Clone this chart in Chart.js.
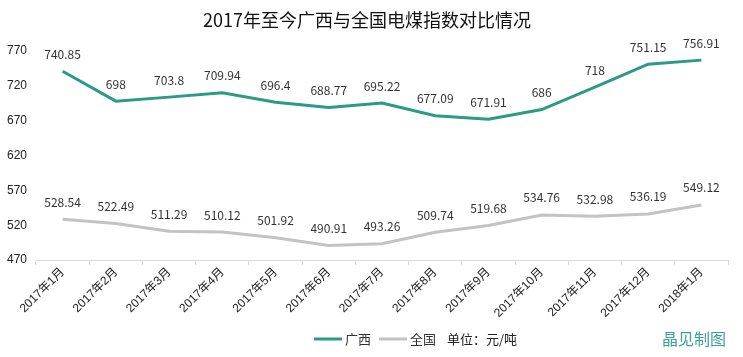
<!DOCTYPE html>
<html><head><meta charset="utf-8">
<script src="https://cdn.jsdelivr.net/npm/chart.js@4/dist/chart.umd.min.js"></script>
<style>html,body{margin:0;padding:0;background:#fff}#wrap{width:743px;height:357px}</style>
</head><body><div id="wrap"><canvas id="c" width="743" height="357"></canvas></div>
<script>
const categories = ['2017年1月','2017年2月','2017年3月','2017年4月','2017年5月','2017年6月','2017年7月','2017年8月','2017年9月','2017年10月','2017年11月','2017年12月','2018年1月'];
const guangxi = [740.85, 698, 703.8, 709.94, 696.4, 688.77, 695.22, 677.09, 671.91, 686, 718, 751.15, 756.91];
const national = [528.54, 522.49, 511.29, 510.12, 501.92, 490.91, 493.26, 509.74, 519.68, 534.76, 532.98, 536.19, 549.12];
const yTicks = [470, 520, 570, 620, 670, 720, 770];
const seriesNames = ['广西', '全国'];
const unitText = '单位：元/吨';
const creditText = '晶见制图';
const titleText = '2017年至今广西与全国电煤指数对比情况';

const TEAL = '#2b9a87';
const GRAY = '#c3c3c3';
const CJK = '"Noto Sans CJK SC", "Liberation Sans", sans-serif';
const SANS = '"Liberation Sans", "Noto Sans CJK SC", sans-serif';

const labelPlugin = {
  id: 'valueLabels',
  afterDatasetsDraw(chart) {
    const ctx = chart.ctx;
    ctx.save();
    ctx.font = '12px ' + CJK;
    ctx.fillStyle = '#333';
    ctx.textAlign = 'center';
    ctx.textBaseline = 'middle';
    chart.data.datasets.forEach((ds, i) => {
      const meta = chart.getDatasetMeta(i);
      meta.data.forEach((pt, j) => {
        ctx.fillText(String(ds.data[j]), pt.x, pt.y - 17);
      });
    });
    ctx.restore();
  }
};

const legendPlugin = {
  id: 'customLegend',
  afterDraw(chart) {
    const ctx = chart.ctx;
    const y = 339;
    ctx.save();
    ctx.textBaseline = 'middle';
    ctx.font = '13px ' + CJK;
    let x = 314;
    const colors = [TEAL, GRAY];
    seriesNames.forEach((name, i) => {
      ctx.strokeStyle = colors[i];
      ctx.lineWidth = 3;
      ctx.beginPath(); ctx.moveTo(x, y); ctx.lineTo(x + 28, y); ctx.stroke();
      ctx.fillStyle = '#333';
      ctx.textAlign = 'left';
      ctx.fillText(name, x + 31, y);
      x += 65;
    });
    ctx.fillStyle = '#222';
    ctx.fillText(unitText, 447, y);
    ctx.fillStyle = '#3aa396';
    ctx.font = '16px ' + CJK;
    ctx.textAlign = 'right';
    ctx.fillText(creditText, 726, y);
    ctx.restore();
  }
};

new Chart(document.getElementById('c'), {
  type: 'line',
  data: {
    labels: categories,
    datasets: [
      { label: seriesNames[0], data: guangxi, borderColor: TEAL, backgroundColor: TEAL, borderWidth: 3, pointRadius: 0, tension: 0, fill: false },
      { label: seriesNames[1], data: national, borderColor: GRAY, backgroundColor: GRAY, borderWidth: 3, pointRadius: 0, tension: 0, fill: false }
    ]
  },
  options: {
    responsive: false,
    animation: false,
    devicePixelRatio: 1,
    layout: { padding: { left: 6, right: 15, top: 7, bottom: 36.5 } },
    plugins: {
      legend: { display: false },
      tooltip: { enabled: false },
      title: { display: true, text: titleText, color: '#111', font: { family: CJK, size: 18, weight: 'normal' }, padding: { top: 2, bottom: 20.4 } }
    },
    scales: {
      x: {
        offset: true,
        grid: { display: true, offset: true, drawOnChartArea: false, drawTicks: true, tickLength: 5, color: '#d9d9d9' },
        border: { display: true, color: '#d9d9d9' },
        ticks: { maxRotation: 45, minRotation: 45, color: '#222', font: { family: SANS, size: 12 }, padding: 0, autoSkip: false }
      },
      y: {
        min: 470, max: 770,
        afterBuildTicks(scale) { scale.ticks = yTicks.map(v => ({ value: v })); },
        afterFit(scale) { scale.width = 30; },
        grid: { display: false, drawTicks: false },
        border: { display: false },
        ticks: { color: '#222', font: { family: SANS, size: 12 }, padding: 9 }
      }
    }
  },
  plugins: [labelPlugin, legendPlugin]
});
</script>
</body></html>
